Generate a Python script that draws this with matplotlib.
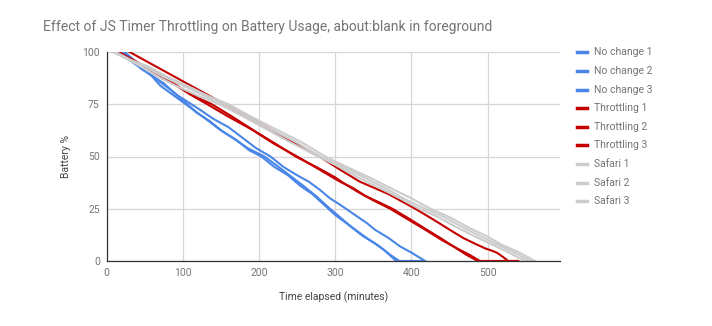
import matplotlib
matplotlib.use("Agg")
import matplotlib.pyplot as plt

plt.rcParams['font.family'] = ['Roboto', 'DejaVu Sans']

# Battery level (%) over time (minutes) for each run
nc1_t = [20, 32, 45, 58, 70, 85, 100, 115, 130, 148, 165, 185, 207, 222, 240, 258, 275, 290, 306, 322, 336, 350, 365, 380, 415]
nc1_b = [100, 97, 92, 89, 84, 80, 76, 72, 68, 63, 59, 54, 50, 46, 41, 36, 31, 26, 21, 16, 12, 9, 5, 0, 0]
nc2_t = [24, 36, 48, 62, 75, 90, 103, 118, 135, 152, 170, 187, 203, 220, 238, 254, 270, 285, 300, 315, 330, 345, 358, 372, 384, 415]
nc2_b = [100, 96, 93, 88, 85, 80, 76, 71, 67, 62, 58, 53, 50, 45, 41, 36, 32, 27, 22, 18, 14, 10, 7, 3, 0, 0]
nc3_t = [18, 34, 50, 65, 80, 94, 107, 124, 140, 160, 178, 196, 215, 232, 250, 265, 280, 293, 306, 318, 330, 342, 352, 370, 385, 400, 418]
nc3_b = [100, 95, 91, 87, 83, 79, 76, 72, 68, 64, 59, 54, 50, 45, 41, 38, 34, 30, 27, 24, 21, 18, 15, 11, 7, 4, 0]

th1_t = [14, 36, 60, 84, 108, 132, 160, 190, 220, 250, 278, 306, 323, 340, 358, 375, 398, 420, 438, 455, 472, 487, 540]
th1_b = [100, 96, 91, 86, 80, 75, 69, 63, 56, 50, 44, 38, 35, 31, 28, 25, 20, 15, 11, 7, 3, 0, 0]
th2_t = [16, 35, 55, 78, 100, 120, 138, 165, 195, 222, 248, 275, 300, 312, 330, 350, 372, 395, 418, 440, 460, 476, 490, 540]
th2_b = [100, 96, 92, 87, 82, 78, 75, 69, 62, 56, 50, 45, 40, 37, 33, 29, 25, 20, 15, 10, 6, 3, 0, 0]
th3_t = [30, 55, 80, 115, 150, 180, 210, 243, 275, 305, 332, 370, 405, 428, 450, 468, 485, 491, 497, 505, 512, 520, 527, 540]
th3_b = [100, 95, 90, 83, 76, 70, 64, 57, 51, 44, 38, 32, 25, 20, 15, 11, 8, 7, 6, 5, 4, 2, 0, 0]

sf1_t = [8, 25, 45, 68, 90, 120, 148, 180, 210, 240, 272, 300, 330, 358, 385, 410, 435, 460, 482, 505, 528, 549, 562]
sf1_b = [100, 97, 93, 88, 84, 79, 75, 69, 63, 57, 51, 46, 40, 35, 30, 25, 21, 16, 12, 8, 4, 0, 0]
sf2_t = [10, 30, 50, 75, 100, 128, 155, 185, 215, 248, 280, 310, 338, 365, 392, 418, 443, 468, 490, 512, 535, 556, 562]
sf2_b = [100, 96, 93, 88, 84, 79, 75, 69, 63, 57, 50, 45, 40, 35, 29.5, 25, 21, 16, 12, 8, 4, 0, 0]
sf3_t = [12, 33, 55, 80, 105, 133, 160, 190, 222, 255, 287, 315, 345, 372, 400, 425, 450, 475, 498, 520, 542, 562]
sf3_b = [100, 96, 93, 88, 84, 79, 75, 69, 63, 57, 50, 45, 40, 35, 30, 25, 21, 16, 12, 7.5, 4, 0]

labels = ["No change 1", "No change 2", "No change 3",
          "Throttling 1", "Throttling 2", "Throttling 3",
          "Safari 1", "Safari 2", "Safari 3"]
series = [(nc1_t, nc1_b), (nc2_t, nc2_b), (nc3_t, nc3_b),
          (th1_t, th1_b), (th2_t, th2_b), (th3_t, th3_b),
          (sf1_t, sf1_b), (sf2_t, sf2_b), (sf3_t, sf3_b)]
BLUE, RED, GRAY = "#4a86e8", "#c40000", "#cccccc"
colors = [BLUE] * 3 + [RED] * 3 + [GRAY] * 3

x_ticks = [0, 100, 200, 300, 400, 500]
y_ticks = [0, 25, 50, 75, 100]

W, H = 712, 326
fig = plt.figure(figsize=(W / 100, H / 100), dpi=100)
ax = fig.add_axes([106.7 / W, 1 - 261 / H, (560 - 106.7) / W, (261 - 52) / H])

for (t, b), c, lab in zip(series, colors, labels):
    ax.plot(t, b, color=c, lw=1.5, label=lab, solid_joinstyle="round")

ax.set_xlim(0, 595)
ax.set_ylim(0, 100)
ax.set_xticks(x_ticks)
ax.set_yticks(y_ticks)
ax.grid(True, color="#d6d6d6", lw=0.9)
ax.set_axisbelow(True)
for s in ["top", "right"]:
    ax.spines[s].set_visible(False)
for s in ["left", "bottom"]:
    ax.spines[s].set_color("#333333")
    ax.spines[s].set_linewidth(0.9)
ax.tick_params(length=0, labelsize=7.5, labelcolor="#757575", pad=5)

ax.set_xlabel("Time elapsed (minutes)", fontsize=7.5, color="#444444", labelpad=10)
ax.set_ylabel("Battery %", fontsize=7.5, color="#444444", labelpad=8)

fig.text(43 / W, 1 - 27 / H, "Effect of JS Timer Throttling on Battery Usage, about:blank in foreground",
         fontsize=10, color="#757575", va="center", ha="left")

for i, lab in enumerate(labels):
    yp = 1 - (52.3 + 18.6 * i) / H
    fig.add_artist(plt.Line2D([577 / W, 587 / W], [yp, yp], color=colors[i], lw=2.5,
                              transform=fig.transFigure))
    fig.text(594 / W, yp, lab, fontsize=7.5, color="#757575", va="center", ha="left")

fig.savefig("out.png", dpi=100)
